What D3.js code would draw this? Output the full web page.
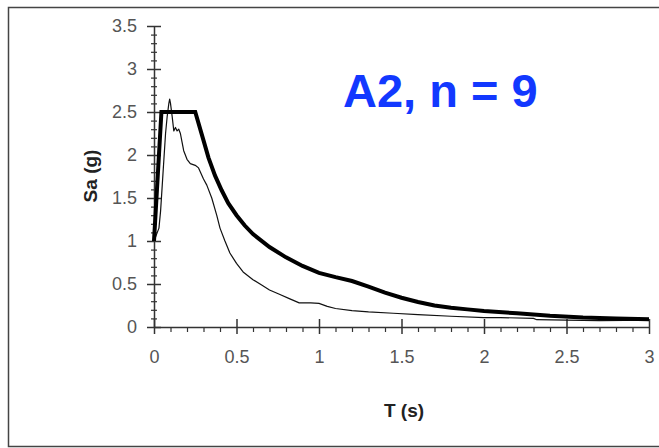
<!DOCTYPE html>
<html>
<head>
<meta charset="utf-8">
<script src="https://cdn.jsdelivr.net/npm/d3@7"></script>
<style>
  html, body { margin: 0; padding: 0; background: #fff; }
  svg { display: block; }
</style>
</head>
<body>
<svg id="chart" width="659" height="448"></svg>
<script>
// ---- data ----
const titleText = "A2, n = 9";
const xTitle = "T (s)";
const yTitle = "Sa (g)";
const xMajorTicks = [0, 0.5, 1, 1.5, 2, 2.5, 3];
const xTickLabels = ["0", "0.5", "1", "1.5", "2", "2.5", "3"];
const yMajorTicks = [0, 0.5, 1, 1.5, 2, 2.5, 3, 3.5];
const yTickLabels = ["0", "0.5", "1", "1.5", "2", "2.5", "3", "3.5"];

// design spectrum (thick line)
const designT  = [0, 0.045, 0.25, 0.3, 0.33, 0.37, 0.41, 0.45, 0.5, 0.55, 0.6, 0.7, 0.8, 0.9, 1.0, 1.1, 1.2, 1.3, 1.4, 1.5, 1.6, 1.7, 1.8, 1.9, 2.0, 2.2, 2.4, 2.6, 2.8, 3.0];
const designSa = [1.0, 2.5, 2.5, 2.17, 1.97, 1.76, 1.59, 1.44, 1.3, 1.18, 1.08, 0.93, 0.81, 0.71, 0.63, 0.58, 0.535, 0.47, 0.4, 0.34, 0.29, 0.25, 0.225, 0.205, 0.185, 0.16, 0.13, 0.11, 0.1, 0.09];

// record spectrum (thin line)
const recordT  = [0, 0.01, 0.02, 0.03, 0.04, 0.05, 0.06, 0.07, 0.08, 0.09, 0.095, 0.1, 0.11, 0.12, 0.13, 0.14, 0.15, 0.16, 0.17, 0.18, 0.2, 0.22, 0.25, 0.27, 0.3, 0.32, 0.35, 0.38, 0.4, 0.43, 0.46, 0.5, 0.54, 0.6, 0.65, 0.7, 0.76, 0.82, 0.88, 0.95, 1.0, 1.05, 1.1, 1.2, 1.3, 1.45, 1.6, 1.8, 2.0, 2.1, 2.3, 2.32, 2.5, 2.7, 3.0];
const recordSa = [1.0, 1.05, 1.1, 1.15, 1.35, 1.65, 1.95, 2.25, 2.45, 2.6, 2.65, 2.6, 2.45, 2.28, 2.32, 2.28, 2.3, 2.25, 2.15, 2.05, 1.95, 1.9, 1.88, 1.85, 1.72, 1.65, 1.5, 1.3, 1.15, 1.0, 0.86, 0.74, 0.64, 0.55, 0.49, 0.43, 0.38, 0.33, 0.28, 0.28, 0.275, 0.24, 0.215, 0.19, 0.175, 0.16, 0.145, 0.125, 0.11, 0.11, 0.1, 0.085, 0.08, 0.075, 0.08];

// ---- drawing ----
const svg = d3.select("#chart");
const x = d3.scaleLinear().domain([0, 3]).range([154, 649]);
const y = d3.scaleLinear().domain([0, 3.5]).range([327, 26]);
const FONT = "Arial, 'Liberation Sans', sans-serif";

// outer frame
svg.append("path")
  .attr("d", "M 669 7.5 H 8.5 V 446.5 H 669")
  .attr("fill", "none").attr("stroke", "#444").attr("stroke-width", 1.5);

const minorX = d3.range(0, 31).map(i => i / 10).filter(v => Math.abs(v * 2 - Math.round(v * 2)) > 1e-6);
const minorY = d3.range(0, 36).map(i => i / 10).filter(v => Math.abs(v * 2 - Math.round(v * 2)) > 1e-6);

// minor y ticks
const gyMinor = svg.append("g").attr("transform", `translate(${x(0)},0)`)
  .call(d3.axisLeft(y).tickValues(minorY).tickSize(3).tickFormat(""));
gyMinor.select(".domain").remove();
gyMinor.selectAll(".tick line").attr("x1", 3).attr("stroke", "#333").attr("stroke-width", 1.2);

// minor x ticks
const gxMinor = svg.append("g").attr("transform", `translate(0,${y(0)})`)
  .call(d3.axisBottom(x).tickValues(minorX).tickSize(5).tickFormat(""));
gxMinor.select(".domain").remove();
gxMinor.selectAll(".tick line").attr("stroke", "#333").attr("stroke-width", 1.2);

// major y axis
const gy = svg.append("g").attr("transform", `translate(${x(0)},0)`)
  .call(d3.axisLeft(y).tickValues(yMajorTicks).tickSize(7).tickSizeOuter(0).tickPadding(10)
    .tickFormat((d, i) => yTickLabels[i]));
gy.select(".domain").attr("stroke", "#333").attr("stroke-width", 1.5);
gy.selectAll(".tick line").attr("x1", 7).attr("stroke", "#333").attr("stroke-width", 1.5);
gy.selectAll(".tick text").attr("fill", "#555").style("font-family", FONT).style("font-size", "18px");

// major x axis
const gx = svg.append("g").attr("transform", `translate(0,${y(0)})`)
  .call(d3.axisBottom(x).tickValues(xMajorTicks).tickSize(7).tickSizeOuter(0).tickPadding(16)
    .tickFormat((d, i) => xTickLabels[i]));
gx.select(".domain").attr("stroke", "#333").attr("stroke-width", 1.5);
gx.selectAll(".tick line").attr("y1", -8).attr("stroke", "#333").attr("stroke-width", 1.5);
gx.selectAll(".tick text").attr("fill", "#555").style("font-family", FONT).style("font-size", "18px");

// lines
const line = d3.line().x(d => x(d[0])).y(d => y(d[1]));
svg.append("path")
  .datum(recordT.map((t, i) => [t, recordSa[i]]))
  .attr("d", line).attr("fill", "none").attr("stroke", "#111").attr("stroke-width", 1.2)
  .attr("stroke-linejoin", "round");
svg.append("path")
  .datum(designT.map((t, i) => [t, designSa[i]]))
  .attr("d", line).attr("fill", "none").attr("stroke", "#000").attr("stroke-width", 4)
  .attr("stroke-linejoin", "miter");

// axis titles
svg.append("text")
  .attr("x", 404).attr("y", 417).attr("text-anchor", "middle")
  .style("font-family", FONT).style("font-size", "19px").style("font-weight", "bold")
  .attr("fill", "#222").text(xTitle);
svg.append("text")
  .attr("transform", "translate(97,176) rotate(-90)").attr("text-anchor", "middle")
  .style("font-family", FONT).style("font-size", "19px").style("font-weight", "bold")
  .attr("fill", "#222").text(yTitle);

// title
svg.append("text")
  .attr("x", 343).attr("y", 107)
  .style("font-family", FONT).style("font-size", "47px").style("font-weight", "bold")
  .attr("fill", "#1238ff").text(titleText);
</script>
</body>
</html>
